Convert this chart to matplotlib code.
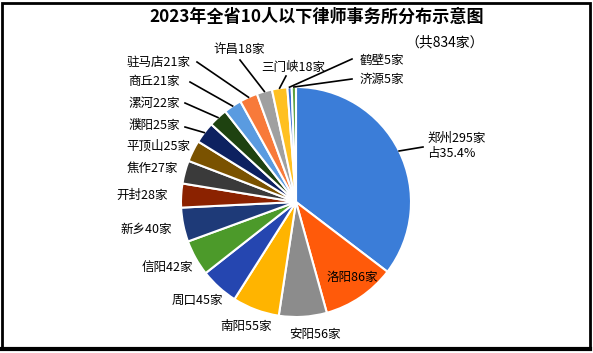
import matplotlib.pyplot as plt
import numpy as np
from matplotlib.patches import Rectangle

plt.rcParams['font.family'] = ['Noto Sans CJK SC', 'DejaVu Sans']

cities = ["郑州", "洛阳", "安阳", "南阳", "周口", "信阳", "新乡", "开封", "焦作",
          "平顶山", "濮阳", "漯河", "商丘", "驻马店", "许昌", "三门峡", "鹤壁", "济源"]
counts = [295, 86, 56, 55, 45, 42, 40, 28, 27, 25, 25, 22, 21, 21, 18, 18, 5, 5]
colors = ["#3b7dd8", "#ff5a0a", "#8c8c8c", "#ffb400", "#2546b0", "#4c9a2a",
          "#1e3a78", "#8b2200", "#3a3a3a", "#7a5200", "#0d2160", "#1e4210",
          "#5a9be0", "#f87a3a", "#a0a0a0", "#ffc020", "#3b6fd0", "#5aa040"]
title = "2023年全省10人以下律师事务所分布示意图"
subtitle = "（共834家）"

W, H = 593, 353
cx, cy, r = 296, 202, 115

# label centres (pixel coords) and leader start points (None = no leader)
label_pos = [(427, 146), (352, 277), (315, 334), (246, 326), (197, 300), (167, 267),
             (146, 229), (142, 195), (152, 168), (158, 146), (154, 125), (154, 103),
             (154, 82), (159, 62), (239, 50), (293, 67), (382, 60), (382, 79)]
leader_from = [(423, 147), None, None, None, None, None, None, None, None, None,
               (185, 127), (185, 103), (190, 82), (197, 62), (240, 60), (286, 76),
               (352, 59), (352, 79)]

fig = plt.figure(figsize=(W / 100, H / 100), dpi=100)
ax = fig.add_axes([0, 0, 1, 1])

ax.pie(counts, colors=colors, startangle=90, counterclock=False,
       center=(cx, H - cy), radius=r, frame=True,
       wedgeprops=dict(edgecolor='white', linewidth=1.5))
ax.set_xlim(0, W)
ax.set_ylim(0, H)
ax.axis('off')

total = sum(counts)
cum = np.cumsum([0] + counts)
for i, (name, n) in enumerate(zip(cities, counts)):
    mid = (cum[i] + n / 2) / total * 2 * np.pi
    rim = (cx + r * np.sin(mid), H - (cy - r * np.cos(mid)))
    lx, ly = label_pos[i]
    if i == 0:
        ax.text(lx, H - ly, f"{name}{n}家\n占{n / total * 100:.1f}%", ha='left',
                va='center', fontsize=9, fontweight='medium', linespacing=1.25)
    else:
        ax.text(lx, H - ly, f"{name}{n}家", ha='center', va='center',
                fontsize=9, fontweight='medium')
    if leader_from[i] is not None:
        fx, fy = leader_from[i]
        ax.plot([fx, rim[0]], [H - fy, rim[1]], color='black', lw=1.2)

ax.text(317, H - 17, title, ha='center', va='center', fontsize=12.3, fontweight='bold')
ax.text(484, H - 42, subtitle, ha='right', va='center', fontsize=10)

ax.add_patch(Rectangle((2, H - 349), 588, 346, fill=False, edgecolor='black', lw=2))
ax.plot([2, 590], [H - 349, H - 349], color='black', lw=3)

fig.savefig("out.png", dpi=100)
